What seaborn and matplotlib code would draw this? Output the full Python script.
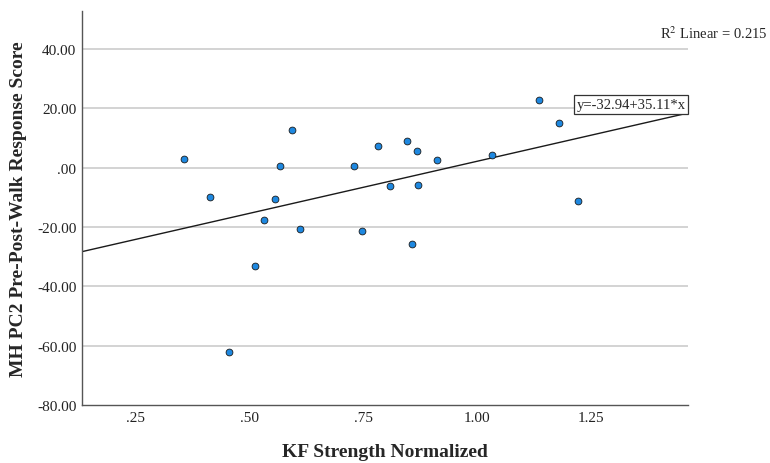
import pandas as pd
import matplotlib.pyplot as plt
import matplotlib.transforms as mtransforms
import seaborn as sns

# KF strength vs PC2 response score
kf_strength = [0.355, 0.414, 0.454, 0.513, 0.531, 0.555, 0.566, 0.594, 0.610, 0.730, 0.746,
               0.783, 0.809, 0.846, 0.857, 0.868, 0.871, 0.912, 1.033, 1.136, 1.180, 1.221]
pc2_score = [3.0, -9.8, -62.0, -33.3, -17.8, -10.4, 0.7, 12.8, -20.5, 0.7, -21.2,
             7.4, -6.1, 9.1, -25.6, 5.7, -5.7, 2.7, 4.4, 22.9, 15.1, -11.1]

intercept = -32.94
slope = 35.11
r2 = 0.215

x_ticks = [0.25, 0.50, 0.75, 1.00, 1.25]
x_ticklabels = ['.25', '.50', '.75', '1.00', '1.25']
y_ticks = [-80, -60, -40, -20, 0, 20, 40]
y_ticklabels = ['-80.00', '-60.00', '-40.00', '-20.00', '.00', '20.00', '40.00']

data = pd.DataFrame({'KF Strength Normalized': kf_strength,
                     'MH PC2 Pre-Post-Walk Response Score': pc2_score})

sns.set_style('white')
plt.rcParams['font.family'] = ['Liberation Serif', 'DejaVu Serif']
plt.rcParams['mathtext.fontset'] = 'stix'

fig = plt.figure(figsize=(7.7, 4.64), dpi=100)
ax = fig.add_axes([0.1065, 0.125, 0.787, 0.849])

ax.set_xlim(0.132, 1.463)
ax.set_ylim(-80, 52.8)
for yv in y_ticks[1:]:
    ax.axhline(yv, color='#c8c8c8', linewidth=1.1, zorder=0)

# fit line from the reported equation
ax.axline((0, intercept), slope=slope, color='#1a1a1a', linewidth=1.0, zorder=2)

sns.scatterplot(data=data, x='KF Strength Normalized', y='MH PC2 Pre-Post-Walk Response Score',
                ax=ax, s=24, color='#1e88e0', edgecolor='#1a1a1a', linewidth=0.6, zorder=3)

ax.set_xticks(x_ticks)
ax.set_xticklabels(x_ticklabels)
ax.set_yticks(y_ticks)
ax.set_yticklabels(y_ticklabels)
ax.tick_params(axis='both', length=0, labelsize=11, colors='#222222', pad=4)

for s in ['top', 'right']:
    ax.spines[s].set_visible(False)
for s in ['left', 'bottom']:
    ax.spines[s].set_color('#555555')
    ax.spines[s].set_linewidth(1.0)

ax.set_xlabel('KF Strength Normalized', fontsize=14, fontweight='bold', labelpad=14)
ax.set_ylabel('MH PC2 Pre-Post-Walk Response Score', fontsize=14, fontweight='bold', labelpad=7)

fig.text(0.997, 0.928, 'R$^2$ Linear = %.3f' % r2, fontsize=10.5, ha='right', va='center')
blend = mtransforms.blended_transform_factory(ax.transAxes, ax.transData)
ax.text(0.996, intercept + slope * ax.get_xlim()[1] + 0.6, 'y=%.2f+%.2f*x' % (intercept, slope),
        transform=blend, ha='right', va='bottom', fontsize=10.5,
        bbox=dict(boxstyle='square,pad=0.2', facecolor='white', edgecolor='#333333', linewidth=0.9))

plt.savefig('out.png', dpi=100)
